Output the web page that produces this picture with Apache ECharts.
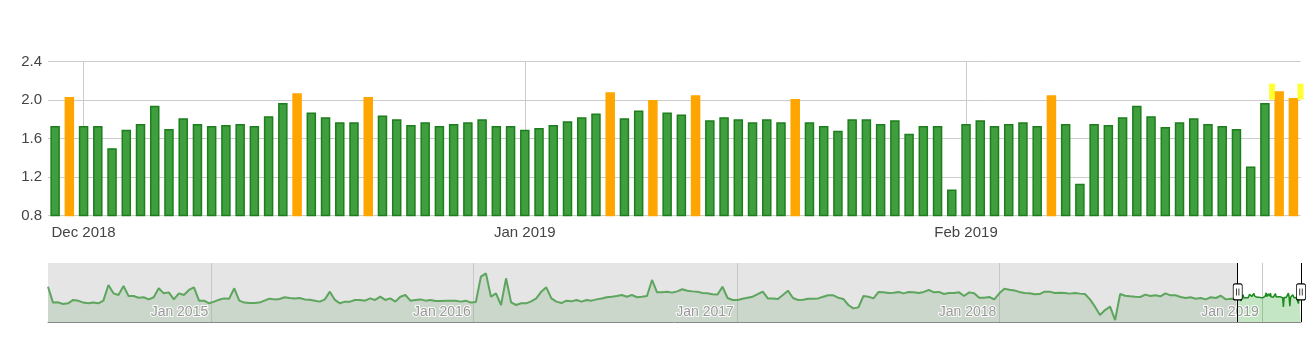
<!DOCTYPE html>
<html>
<head>
<meta charset="utf-8">
<script src="https://cdn.jsdelivr.net/npm/echarts@6/dist/echarts.min.js"></script>
<style>
html, body { margin: 0; padding: 0; background: #fff; }
#main { width: 1315px; height: 351px; }
</style>
</head>
<body>
<div id="main"></div>
<script>
var DAY = 24 * 3600 * 1000;

// daily values shown as bars, first bar is 2018-11-29
var barStart = [2018, 10, 29];
var novValues = [1.73, 2.03];
var decValues = [1.73, 1.73, 1.50, 1.69, 1.75, 1.94, 1.70, 1.81, 1.75, 1.73, 1.74, 1.75, 1.73, 1.83, 1.97, 2.07,
  1.87, 1.82, 1.77, 1.77, 2.03, 1.84, 1.80, 1.74, 1.77, 1.73, 1.75, 1.77, 1.80, 1.73, 1.73];
var janValues = [1.69, 1.71, 1.74, 1.78, 1.82, 1.86, 2.08, 1.81, 1.89, 2.00, 1.87, 1.85, 2.05, 1.79, 1.82, 1.80,
  1.77, 1.80, 1.77, 2.01, 1.77, 1.73, 1.68, 1.80, 1.80, 1.75, 1.79, 1.65, 1.73, 1.73, 1.07];
var febValues = [1.75, 1.79, 1.73, 1.75, 1.77, 1.73, 2.05, 1.75, 1.13, 1.75, 1.74, 1.82, 1.94, 1.83, 1.72, 1.77,
  1.81, 1.75, 1.73, 1.70, 1.31, 1.97, 2.09, 2.02];
var highlightFrom = 1.99;

// overview history, weekly from 2014-05-19
var historyStart = [2014, 4, 19];
var historyValues = [
  2.51, 1.38, 1.40, 1.28, 1.33, 1.57, 1.52, 1.38, 1.33, 1.38, 1.33, 1.52, 2.63, 2.04, 1.92, 2.56,
  1.85, 1.85, 1.73, 1.76, 1.61, 1.76, 2.40, 2.04, 2.11, 1.61, 2.04, 1.92, 2.28, 2.47, 1.52, 1.52,
  1.33, 1.45, 1.59, 1.68, 1.66, 2.40, 1.52, 1.38, 1.35, 1.35, 1.38, 1.52, 1.66, 1.61, 1.64, 1.76,
  1.71, 1.68, 1.71, 1.61, 1.59, 1.52, 1.45, 1.61, 2.16, 1.57, 1.33, 1.45, 1.45, 1.57,
  1.57, 1.52, 1.68, 1.57, 1.80, 1.57, 1.68, 1.45, 1.80, 1.92, 1.52, 1.57, 1.61, 1.52, 1.57, 1.49,
  1.49, 1.52, 1.52, 1.52, 1.45, 1.52, 1.38, 1.42, 3.23, 3.46, 1.80, 2.04, 1.21, 3.11, 1.40, 1.21,
  1.33, 1.33, 1.47, 1.68, 2.16, 2.47, 1.68, 1.45, 1.35, 1.52, 1.47, 1.57, 1.45, 1.57, 1.52, 1.61,
  1.68, 1.76, 1.80, 1.85, 1.92, 1.80, 1.92, 1.76, 1.80, 1.85, 2.99, 2.11, 2.11,
  2.16, 2.09, 2.18, 2.33, 2.23, 2.18, 2.16, 2.06, 2.04, 1.97, 1.95, 2.51, 1.71, 1.57, 1.57, 1.66,
  1.73, 1.80, 1.99, 2.16, 1.68, 1.68, 1.64, 1.92, 2.23, 1.71, 1.57, 1.59, 1.66, 1.66, 1.68, 1.80,
  1.90, 1.90, 1.73, 1.64, 1.21, 0.97, 1.04, 1.85, 1.80, 1.68, 2.14, 2.11, 2.06, 2.09, 2.14, 2.04,
  2.14, 2.11, 2.06, 2.14, 2.28, 2.11, 2.14, 1.99, 2.06, 2.06, 2.11, 1.85, 2.11, 2.04,
  1.73, 1.73, 1.78, 1.61, 2.04, 2.37, 2.30, 2.25, 2.14, 2.06, 2.04, 1.97, 1.99, 2.16, 2.16, 2.06,
  2.09, 2.06, 2.02, 2.06, 2.02, 1.99, 1.61, 1.09, 0.50, 0.85, 1.09, 0.14, 1.99, 1.87, 1.83, 1.80,
  1.78, 1.95, 1.85, 1.90, 1.83, 2.04, 1.90, 1.90, 1.78, 1.71, 1.76, 1.66, 1.71, 1.61, 1.76, 1.71,
  1.87, 1.61, 1.66, 1.64
];

// zoom window shown in the main chart
var windowStart = new Date(2018, 10, 28, 12).getTime();
var windowEnd = new Date(2019, 1, 24, 12).getTime();

// yellow range brackets
var bracketDates = [new Date(2019, 1, 22, 12).getTime(), new Date(2019, 1, 24, 12).getTime()];
var bracketLevel = 2.087;

var barValues = novValues.concat(decValues, janValues, febValues);

var barData = barValues.map(function (v, i) {
  var t = new Date(barStart[0], barStart[1], barStart[2] + i).getTime();
  if (v >= highlightFrom) {
    return { value: [t, v], itemStyle: { color: '#FFA500', borderColor: '#FFA500' } };
  }
  return { value: [t, v] };
});

var windowLine = barValues.map(function (v, i) {
  return [new Date(barStart[0], barStart[1], barStart[2] + i).getTime(), v];
});

var historyLine = historyValues.map(function (v, i) {
  return [new Date(historyStart[0], historyStart[1], historyStart[2] + 7 * i).getTime(), v];
});

var font = 'Liberation Sans, Arial, sans-serif';
var barWidth = 9.5;
var plotWidth = 1315 - 48 - 14.5;
// echarts widens a time axis by half a bar on each side, take that back
var barPad = (windowEnd - windowStart) * (barWidth / 2) / plotWidth;

function monthYear(v) {
  return echarts.time.format(v, '{MMM} {yyyy}', false);
}

var handlePath = 'path://M2,0H7A2,2,0,0,1,9,2V14A2,2,0,0,1,7,16H2A2,2,0,0,1,0,14V2A2,2,0,0,1,2,0ZM3.3,4.5V11.5M5.7,4.5V11.5';

var chart = echarts.init(document.getElementById('main'));

chart.setOption({
  animation: false,
  textStyle: { fontFamily: font },
  grid: [
    { left: 48, right: 14.5, top: 61.5, bottom: 135.5 },
    { left: 48, right: 14, top: 263, bottom: 29, show: true, backgroundColor: '#e5e5e5', borderWidth: 0 }
  ],
  xAxis: [
    {
      type: 'time', gridIndex: 0, min: windowStart + barPad, max: windowEnd - barPad,
      minInterval: 28 * DAY,
      axisLine: { show: false }, axisTick: { show: false },
      splitLine: { show: true, showMinLine: false, showMaxLine: false, lineStyle: { color: '#cccccc' } },
      axisLabel: {
        color: '#444', fontSize: 15, margin: 10, fontFamily: font,
        showMinLabel: false, showMaxLabel: false,
        formatter: monthYear
      }
    },
    {
      type: 'time', gridIndex: 1, z: 3,
      min: historyLine[0][0], max: windowEnd,
      minInterval: 365 * DAY,
      axisLine: { show: true, lineStyle: { color: '#888', width: 1 } },
      axisTick: { show: false },
      splitLine: { show: true, showMinLine: false, showMaxLine: false, lineStyle: { color: '#c8c8c8' } },
      axisLabel: {
        inside: true, align: 'right', margin: 3, padding: [0, 3, 0, 0],
        color: '#999', fontSize: 14, fontFamily: font,
        textBorderColor: 'rgba(255,255,255,0.9)', textBorderWidth: 2,
        showMinLabel: false, showMaxLabel: false,
        formatter: monthYear
      }
    }
  ],
  yAxis: [
    {
      type: 'value', gridIndex: 0, min: 0.8, max: 2.4, interval: 0.4,
      axisLine: { show: false }, axisTick: { show: false },
      splitLine: { lineStyle: { color: '#cccccc' } },
      axisLabel: {
        color: '#444', fontSize: 15, margin: 6, fontFamily: font,
        formatter: function (v) { return v.toFixed(1); }
      }
    },
    { type: 'value', gridIndex: 1, min: 0, max: 4.2, show: false }
  ],
  series: [
    {
      type: 'bar', xAxisIndex: 0, yAxisIndex: 0,
      barWidth: barWidth,
      itemStyle: { color: '#3f9f3f', borderColor: '#1e7e1e', borderWidth: 1.5 },
      data: barData
    },
    {
      type: 'scatter', xAxisIndex: 0, yAxisIndex: 0, clip: false, z: 4,
      symbol: 'rect', symbolSize: [6, 16],
      itemStyle: { color: '#ffff00' },
      data: bracketDates.map(function (t) { return [t, bracketLevel]; })
    },
    {
      type: 'line', xAxisIndex: 1, yAxisIndex: 1,
      showSymbol: false, symbol: 'none',
      lineStyle: { color: '#5ea55e', width: 2 },
      areaStyle: { color: 'rgba(90,160,90,0.28)' },
      data: historyLine,
      markArea: {
        silent: true,
        itemStyle: { color: '#ffffff' },
        data: [[{ xAxis: windowStart }, { xAxis: windowEnd }]]
      }
    },
    {
      type: 'line', xAxisIndex: 1, yAxisIndex: 1,
      showSymbol: false, symbol: 'none',
      lineStyle: { color: '#1a8a1a', width: 1.5 },
      areaStyle: { color: 'rgba(70,175,70,0.45)' },
      data: windowLine,
      markLine: {
        silent: true, symbol: 'none',
        label: { show: false },
        lineStyle: { color: '#000', width: 1, type: 'solid' },
        data: [{ xAxis: windowStart }, { xAxis: windowEnd }]
      },
      markPoint: {
        silent: true,
        symbol: handlePath, symbolSize: [9, 16],
        label: { show: false },
        itemStyle: { color: '#fff', borderColor: '#000', borderWidth: 1 },
        data: [{ coord: [windowStart, 2.14] }, { coord: [windowEnd, 2.14] }]
      }
    }
  ]
});
</script>
</body>
</html>
